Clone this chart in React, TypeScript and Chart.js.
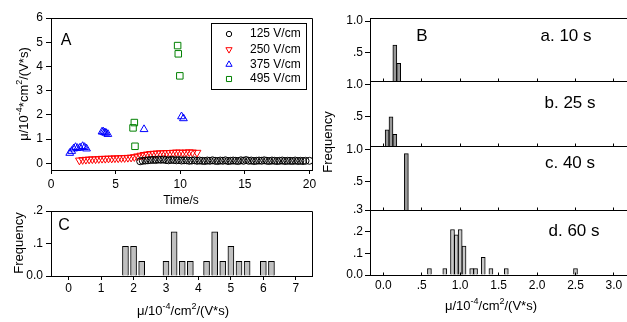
import React, { useEffect, useRef } from 'react';
import { Chart, registerables } from 'chart.js';

Chart.register(...registerables);

const W = 627;
const H = 322;
const FONT = "'Liberation Sans', Arial, Helvetica, sans-serif";

// ---------- Panel A data ----------
const seriesLabels = ['125 V/cm', '250 V/cm', '375 V/cm', '495 V/cm'];
const t125 = [6.9, 7.1, 7.3, 7.5, 7.7, 7.9, 8.1, 8.3, 8.5, 8.7, 8.9, 9.1, 9.3, 9.5, 9.7, 9.9, 10.1, 10.3, 10.5, 10.7, 10.9, 11.1, 11.3, 11.5, 11.7, 11.9, 12.1, 12.3, 12.5, 12.7, 12.9, 13.1, 13.3, 13.5, 13.7, 13.9, 14.1, 14.3, 14.5, 14.7, 14.9, 15.1, 15.3, 15.5, 15.7, 15.9, 16.1, 16.3, 16.5, 16.7, 16.9, 17.1, 17.3, 17.5, 17.7, 17.9, 18.1, 18.3, 18.5, 18.7, 18.9, 19.1, 19.3, 19.5, 19.7, 20.0];
const mu125 = [0.08, 0.1, 0.11, 0.12, 0.13, 0.14, 0.13, 0.15, 0.14, 0.15, 0.13, 0.12, 0.14, 0.13, 0.12, 0.13, 0.11, 0.12, 0.12, 0.1, 0.11, 0.12, 0.1, 0.11, 0.1, 0.09, 0.11, 0.1, 0.12, 0.1, 0.09, 0.11, 0.1, 0.12, 0.09, 0.1, 0.11, 0.1, 0.09, 0.12, 0.1, 0.13, 0.1, 0.11, 0.09, 0.1, 0.11, 0.1, 0.12, 0.1, 0.09, 0.11, 0.1, 0.09, 0.1, 0.11, 0.09, 0.1, 0.1, 0.09, 0.11, 0.09, 0.1, 0.09, 0.1, 0.1];
const t250 = [2.2, 2.45, 2.7, 2.95, 3.2, 3.45, 3.7, 3.95, 4.2, 4.45, 4.7, 4.95, 5.2, 5.45, 5.7, 5.95, 6.2, 6.45, 6.7, 6.95, 7.2, 7.45, 7.7, 7.95, 8.2, 8.45, 8.7, 8.95, 9.2, 9.45, 9.7, 9.95, 10.2, 10.45, 10.7, 10.95, 11.3];
const mu250 = [0.12, 0.14, 0.15, 0.16, 0.17, 0.17, 0.18, 0.19, 0.19, 0.2, 0.2, 0.21, 0.21, 0.22, 0.22, 0.23, 0.24, 0.26, 0.29, 0.32, 0.35, 0.37, 0.39, 0.4, 0.41, 0.42, 0.42, 0.43, 0.43, 0.44, 0.45, 0.45, 0.44, 0.45, 0.46, 0.45, 0.44];
const t375 = [1.45, 1.6, 1.75, 1.9, 2.05, 2.25, 2.45, 2.6, 2.75, 3.95, 4.05, 4.15, 4.25, 4.4, 7.2, 10.1, 10.25];
const mu375 = [0.42, 0.5, 0.6, 0.66, 0.62, 0.64, 0.7, 0.66, 0.6, 1.3, 1.3, 1.27, 1.25, 1.2, 1.4, 1.93, 1.85];
const t495 = [6.35, 6.45, 6.5, 9.8, 9.85, 9.97];
const mu495 = [1.46, 1.68, 0.7, 4.86, 4.52, 3.61];
const aXTicks = [0, 5, 10, 15, 20];
const aXLabels = ['0', '5', '10', '15', '20'];
const aYTicks = [0, 1, 2, 3, 4, 5, 6];
const aYLabels = ['0', '1', '2', '3', '4', '5', '6'];

// ---------- Panel C data ----------
const cBins = [1.75, 2.0, 2.25, 3.0, 3.25, 3.5, 3.75, 4.25, 4.5, 4.75, 5.0, 5.25, 5.5, 6.0, 6.25];
const cFreq = [0.091, 0.091, 0.045, 0.045, 0.136, 0.045, 0.045, 0.045, 0.136, 0.045, 0.091, 0.045, 0.045, 0.045, 0.045];
const cXTicks = [0, 1, 2, 3, 4, 5, 6, 7];
const cXLabels = ['0', '1', '2', '3', '4', '5', '6', '7'];
const cYTicks = [0, 0.1, 0.2];
const cYLabels = ['0.0', '.1', '.2'];

// ---------- Panel B data ----------
const bXTicks = [0, 0.5, 1, 1.5, 2, 2.5, 3];
const bXLabels = ['0.0', '.5', '1.0', '1.5', '2.0', '2.5', '3.0'];
const bUpYTicks = [0.5, 1.0];
const bUpYLabels = ['.5', '1.0'];
const bLowYTicks = [0, 0.1, 0.2, 0.3];
const bLowYLabels = ['0.0', '.1', '.2', '.3'];
const bTitles = ['a. 10 s', 'b. 25 s', 'c. 40 s', 'd. 60 s'];
const b10Bins = [0.15, 0.2];
const b10Freq = [0.62, 0.33];
const b25Bins = [0.05, 0.1, 0.15];
const b25Freq = [0.3, 0.5, 0.23];
const b40Bins = [0.3];
const b40Freq = [0.93];
const b60Bins = [0.6, 0.8, 0.9, 0.95, 1.0, 1.05, 1.15, 1.2, 1.3, 1.4, 1.6, 2.5];
const b60Freq = [0.03, 0.03, 0.21, 0.185, 0.21, 0.134, 0.03, 0.03, 0.082, 0.03, 0.03, 0.03];

// axis titles with superscript parts
const xLabelMu = [{ t: 'μ/10' }, { t: '-4', sup: true }, { t: '/cm' }, { t: '2', sup: true }, { t: '/(V*s)' }];
const yLabelMu = [{ t: 'μ/10' }, { t: '-4', sup: true }, { t: '*cm' }, { t: '2', sup: true }, { t: '/(V*s)' }];

const zip = (xs: number[], ys: number[]) => xs.map((x, i) => ({ x, y: ys[i] }));
const al = (p: number) => Math.round(p - 0.5) + 0.5;

// ---------- plugins ----------
const textPlugin = {
  id: 'txt',
  afterDraw(chart: any, _a: any, o: any) {
    if (!o || !o.items) return;
    const ctx = chart.ctx;
    o.items.forEach((it: any) => {
      const size = it.size || 12;
      const parts = it.parts || [{ t: it.text }];
      const supSize = Math.round(size * 0.72);
      ctx.save();
      ctx.fillStyle = '#000';
      ctx.textBaseline = 'middle';
      ctx.textAlign = 'left';
      ctx.translate(it.x, it.y);
      if (it.rot) ctx.rotate(it.rot);
      let total = 0;
      const widths = parts.map((p: any) => {
        ctx.font = `${p.sup ? supSize : size}px ${FONT}`;
        const w = ctx.measureText(p.t).width;
        total += w;
        return w;
      });
      let x = it.align === 'left' ? 0 : -total / 2;
      parts.forEach((p: any, i: number) => {
        ctx.font = `${p.sup ? supSize : size}px ${FONT}`;
        ctx.fillText(p.t, x, p.sup ? -size * 0.33 : 0);
        x += widths[i];
      });
      ctx.restore();
    });
  },
};

const framePlugin = {
  id: 'frame',
  afterDraw(chart: any, _a: any, o: any) {
    if (!o || !o.sides) return;
    const { left, top, right, bottom } = chart.chartArea;
    const ctx = chart.ctx;
    ctx.save();
    ctx.strokeStyle = '#000';
    ctx.lineWidth = 1;
    ctx.beginPath();
    if (o.sides.includes('top')) {
      ctx.moveTo(al(left), al(top));
      ctx.lineTo(o.sides.includes('right') ? al(right) : right, al(top));
    }
    if (o.sides.includes('right')) {
      ctx.moveTo(al(right), al(top));
      ctx.lineTo(al(right), al(bottom));
    }
    ctx.stroke();
    ctx.restore();
  },
};

const inTickPlugin = {
  id: 'inTicks',
  afterDraw(chart: any, _a: any, o: any) {
    if (!o || !o.values) return;
    const ctx = chart.ctx;
    const xs = chart.scales.x;
    const y = al(chart.chartArea.bottom);
    ctx.save();
    ctx.strokeStyle = '#000';
    ctx.lineWidth = 1;
    ctx.beginPath();
    o.values.forEach((v: number) => {
      const px = al(xs.getPixelForValue(v));
      ctx.moveTo(px, y);
      ctx.lineTo(px, y - o.len);
    });
    ctx.stroke();
    ctx.restore();
  },
};

function drawMarker(ctx: CanvasRenderingContext2D, style: string, rot: number, x: number, y: number, r: number, color: string) {
  ctx.save();
  ctx.strokeStyle = color;
  ctx.lineWidth = 1;
  ctx.beginPath();
  if (style === 'circle') {
    ctx.arc(x, y, r, 0, Math.PI * 2);
  } else if (style === 'rect') {
    const s = r * Math.SQRT1_2;
    ctx.rect(x - s, y - s, 2 * s, 2 * s);
  } else {
    const dir = rot === 180 ? -1 : 1;
    const h = r * 0.866;
    ctx.moveTo(x, y - dir * r);
    ctx.lineTo(x + h, y + dir * r * 0.5);
    ctx.lineTo(x - h, y + dir * r * 0.5);
    ctx.closePath();
  }
  ctx.stroke();
  ctx.restore();
}

const legendPlugin = {
  id: 'boxLegend',
  afterDraw(chart: any, _a: any, o: any) {
    if (!o || !o.box) return;
    const ctx = chart.ctx;
    ctx.save();
    ctx.strokeStyle = '#000';
    ctx.lineWidth = 1;
    const [bx, by, bw, bh] = o.box;
    ctx.strokeRect(al(bx), al(by), bw, bh);
    chart.data.datasets.forEach((ds: any, i: number) => {
      const y = o.rows[i];
      drawMarker(ctx, ds.pointStyle, ds.rotation || 0, o.markerX, y, o.radii[i], ds.borderColor);
      ctx.fillStyle = '#000';
      ctx.font = `12px ${FONT}`;
      ctx.textAlign = 'left';
      ctx.textBaseline = 'middle';
      ctx.fillText(ds.label, o.textX, y);
    });
    ctx.restore();
  },
};

const allPlugins = [textPlugin, framePlugin, inTickPlugin, legendPlugin];

// ---------- helpers ----------
function axis(o: {
  axis: 'x' | 'y'; min: number; max: number; ticks: number[]; labels: string[];
  size: number; showLabels: boolean; pad: number; drawTicks: boolean; tickLen: number;
}) {
  return {
    type: 'linear',
    min: o.min,
    max: o.max,
    offset: false,
    afterFit: (s: any) => {
      if (o.axis === 'x') s.height = o.size;
      else s.width = o.size;
    },
    afterBuildTicks: (s: any) => {
      s.ticks = o.ticks.map((v) => ({ value: v }));
    },
    ticks: {
      display: o.showLabels,
      color: '#000',
      font: { family: FONT, size: 12 },
      padding: o.pad,
      autoSkip: false,
      maxRotation: 0,
      minRotation: 0,
      callback: (v: number) => {
        const i = o.ticks.indexOf(v);
        return i >= 0 ? o.labels[i] : '';
      },
    },
    grid: {
      display: true,
      drawOnChartArea: false,
      drawTicks: o.drawTicks,
      tickLength: o.tickLen,
      tickColor: '#000',
      tickWidth: 1,
      offset: false,
    },
    border: { display: true, color: '#000', width: 1 },
  };
}

function pad(l: number, t: number, r: number, b: number, yW: number, xH: number) {
  return { padding: { left: l - yW, top: t, right: W - r, bottom: H - b - xH } };
}

const baseOpts = {
  responsive: false,
  animation: false,
  devicePixelRatio: 1,
  events: [],
};

// ---------- Panel A ----------
function configA() {
  return {
    type: 'scatter',
    plugins: allPlugins,
    data: {
      datasets: [
        { label: seriesLabels[0], data: zip(t125, mu125), pointStyle: 'circle', pointRadius: 3.5, borderColor: '#000000', backgroundColor: 'rgba(0,0,0,0)', borderWidth: 1 },
        { label: seriesLabels[1], data: zip(t250, mu250), pointStyle: 'triangle', rotation: 180, pointRadius: 4.5, borderColor: '#ff0000', backgroundColor: 'rgba(0,0,0,0)', borderWidth: 1 },
        { label: seriesLabels[2], data: zip(t375, mu375), pointStyle: 'triangle', pointRadius: 4.5, borderColor: '#0000ff', backgroundColor: 'rgba(0,0,0,0)', borderWidth: 1 },
        { label: seriesLabels[3], data: zip(t495, mu495), pointStyle: 'rect', pointRadius: 4.6, borderColor: '#008000', backgroundColor: 'rgba(0,0,0,0)', borderWidth: 1 },
      ],
    },
    options: {
      ...baseOpts,
      layout: pad(51, 18, 312, 170, 51, 40),
      plugins: {
        legend: { display: false },
        tooltip: { enabled: false },
        frame: { sides: ['top', 'right'] },
        boxLegend: { box: [211, 23, 95, 66], rows: [34, 49.5, 64.5, 79], markerX: 229, textX: 250, radii: [2.7, 3.6, 3.6, 3.6] },
        txt: {
          items: [
            { text: 'A', x: 66, y: 41, size: 16 },
            { text: 'Time/s', x: 181, y: 201, size: 12 },
            { parts: yLabelMu, x: 24, y: 94, size: 13, rot: -Math.PI / 2 },
          ],
        },
      },
      scales: {
        x: axis({ axis: 'x', min: 0, max: 20.2, ticks: aXTicks, labels: aXLabels, size: 40, showLabels: true, pad: 3, drawTicks: true, tickLen: 4 }),
        y: axis({ axis: 'y', min: -0.28, max: 6, ticks: aYTicks, labels: aYLabels, size: 51, showLabels: true, pad: 3, drawTicks: true, tickLen: 5 }),
      },
    },
  };
}

// ---------- Panel C ----------
function configC() {
  return {
    type: 'bar',
    plugins: allPlugins,
    data: {
      datasets: [
        { data: zip(cBins, cFreq), backgroundColor: '#c0c0c0', borderColor: '#000', borderWidth: 1, barThickness: 6, borderSkipped: 'start' },
      ],
    },
    options: {
      ...baseOpts,
      layout: pad(51, 211, 312, 276, 51, 40),
      plugins: {
        legend: { display: false },
        tooltip: { enabled: false },
        frame: { sides: ['top', 'right'] },
        txt: {
          items: [
            { text: 'C', x: 64, y: 226, size: 16 },
            { text: 'Frequency', x: 19, y: 243, size: 13, rot: -Math.PI / 2 },
            { parts: xLabelMu, x: 183, y: 311, size: 13 },
          ],
        },
      },
      scales: {
        x: axis({ axis: 'x', min: -0.545, max: 7.5, ticks: cXTicks, labels: cXLabels, size: 40, showLabels: true, pad: 1, drawTicks: true, tickLen: 4 }),
        y: axis({ axis: 'y', min: 0, max: 0.2, ticks: cYTicks, labels: cYLabels, size: 51, showLabels: true, pad: 3, drawTicks: true, tickLen: 5 }),
      },
    },
  };
}

// ---------- Panel B ----------
function configB(idx: number) {
  const bins = [b10Bins, b25Bins, b40Bins, b60Bins][idx];
  const freq = [b10Freq, b25Freq, b40Freq, b60Freq][idx];
  const tops = [18, 81, 146, 210];
  const bottoms = [81, 146, 210, 275];
  const titleY = [36, 103, 163, 231];
  const titleX = [566, 570, 570, 574];
  const isLast = idx === 3;
  const items: any[] = [{ text: bTitles[idx], x: titleX[idx], y: titleY[idx], size: 17 }];
  if (idx === 0) items.push({ text: 'B', x: 422, y: 36, size: 17 });
  if (isLast) {
    items.push({ parts: xLabelMu, x: 491, y: 306, size: 13 });
    items.push({ text: 'Frequency', x: 328, y: 142, size: 13, rot: -Math.PI / 2 });
  }
  return {
    type: 'bar',
    plugins: allPlugins,
    data: {
      datasets: [
        { data: zip(bins, freq), backgroundColor: isLast ? '#c8c8c8' : '#999999', borderColor: '#000', borderWidth: 1, barThickness: 4, borderSkipped: 'start' },
      ],
    },
    options: {
      ...baseOpts,
      layout: pad(370, tops[idx], 627, bottoms[idx], 50, 20),
      plugins: {
        legend: { display: false },
        tooltip: { enabled: false },
        frame: idx === 0 ? { sides: ['top'] } : {},
        inTicks: { values: bXTicks, len: 3 },
        txt: { items },
      },
      scales: {
        x: axis({ axis: 'x', min: -0.173, max: 3.17, ticks: bXTicks, labels: bXLabels, size: 20, showLabels: isLast, pad: 3, drawTicks: false, tickLen: 0 }),
        y: isLast
          ? axis({ axis: 'y', min: 0, max: 0.3, ticks: bLowYTicks, labels: bLowYLabels, size: 50, showLabels: true, pad: 2, drawTicks: true, tickLen: 5 })
          : axis({ axis: 'y', min: 0.05, max: 1.05, ticks: bUpYTicks, labels: bUpYLabels, size: 50, showLabels: true, pad: 2, drawTicks: true, tickLen: 5 }),
      },
    },
  };
}

const builders = [configA, configC, () => configB(0), () => configB(1), () => configB(2), () => configB(3)];

export default function App() {
  const canvases = useRef<(HTMLCanvasElement | null)[]>([]);
  useEffect(() => {
    const charts = builders.map((b, i) => new Chart(canvases.current[i] as HTMLCanvasElement, b() as any));
    return () => charts.forEach((c) => c.destroy());
  }, []);
  return (
    <div style={{ position: 'fixed', left: 0, top: 0, width: W, height: H, background: '#fff' }}>
      {builders.map((_, i) => (
        <canvas
          key={i}
          ref={(el) => { canvases.current[i] = el; }}
          width={W}
          height={H}
          style={{ position: 'absolute', left: 0, top: 0, width: W, height: H }}
        />
      ))}
    </div>
  );
}
